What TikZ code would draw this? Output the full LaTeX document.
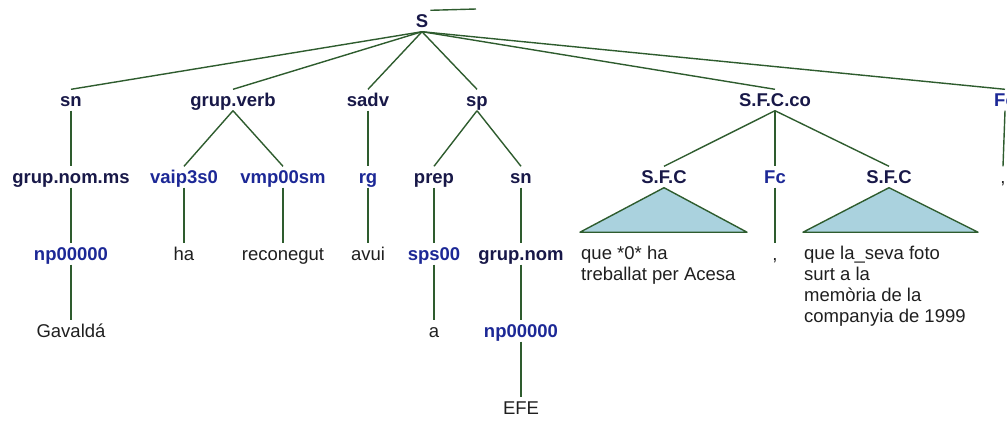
\documentclass[tikz,border=0pt]{standalone}
\usepackage{fontspec}
\setmainfont{Liberation Sans}
\usepackage{tikz}
\definecolor{catcol}{RGB}{24,24,72}
\definecolor{tagcol}{RGB}{28,40,150}
\definecolor{edgecol}{RGB}{46,92,46}
\definecolor{trifill}{RGB}{170,210,222}
\tikzset{
  lbl/.style={anchor=base,inner xsep=2pt,inner ysep=3pt,text height=13.5pt,text depth=1.5pt,font=\fontsize{18.5}{21}\selectfont},
  cat/.style={lbl,font=\fontsize{18.5}{21}\selectfont\bfseries,text=catcol},
  tag/.style={lbl,font=\fontsize{18.5}{21}\selectfont\bfseries,text=tagcol},
  word/.style={lbl,text=black!88},
  phrase/.style={anchor=north west,align=left,inner sep=0pt,font=\fontsize{18.5}{21}\selectfont,text=black!88},
  br/.style={draw=edgecol,line width=1.4pt},
  tri/.style={draw=edgecol,line width=1.4pt,fill=trifill,line join=round}
}

\begin{document}
\begin{tikzpicture}[x=1pt,y=-1pt]
\clip (0,0) rectangle (1007,421);
\node[cat] (S) at (422,27) {S};
\coordinate (up) at (476,9);
% first level
\node[cat] (sn) at (71,106) {sn};
\node[cat] (gv) at (233,106) {grup.verb};
\node[cat] (sadv) at (368,106) {sadv};
\node[cat] (sp) at (477,106) {sp};
\node[cat] (sfcco) at (775,106) {S.F.C.co};
\node[tag] (fcr) at (1005,106) {Fc};
% second level
\node[cat] (gnms) at (71,183) {grup.nom.ms};
\node[tag] (vaip) at (184,183) {vaip3s0};
\node[tag] (vmp) at (283,183) {vmp00sm};
\node[tag] (rg) at (368,183) {rg};
\node[cat] (prep) at (434,183) {prep};
\node[cat] (snb) at (521,183) {sn};
\node[cat] (sfca) at (664,183) {S.F.C};
\node[tag] (fcm) at (775,183) {Fc};
\node[cat] (sfcb) at (889,183) {S.F.C};
\node[word] (comr) at (1003,183) {,};
% third level
\node[tag] (npa) at (71,260) {np00000};
\node[word] (ha) at (184,260) {ha};
\node[word] (recon) at (283,260) {reconegut};
\node[word] (avui) at (368,260) {avui};
\node[tag] (sps) at (434,260) {sps00};
\node[cat] (gnom) at (521,260) {grup.nom};
\node[word] (comm) at (775,260) {,};
\node[phrase] (pha) at (581,245.5) {que *0* ha\\treballat per Acesa};
\node[phrase] (phb) at (804,245.5) {que la\_seva foto\\surt a la\\memòria de la\\companyia de 1999};
% fourth and fifth level
\node[word] (gav) at (71,337) {Gavaldá};
\node[word] (a) at (434,337) {a};
\node[tag] (npb) at (521,337) {np00000};
\node[word] (efe) at (521,414) {EFE};
% branches
\draw[br] (S.north east) -- (up);
\foreach \p/\c in {S/sn,S/gv,S/sadv,S/sp,S/sfcco,S/fcr,sn/gnms,gv/vaip,gv/vmp,sadv/rg,sp/prep,sp/snb,
  sfcco/sfca,sfcco/fcm,sfcco/sfcb,fcr/comr,gnms/npa,vaip/ha,vmp/recon,rg/avui,prep/sps,snb/gnom,fcm/comm,
  npa/gav,sps/a,gnom/npb,npb/efe}
  \draw[br] (\p.south) -- (\c.north);
\path[tri] (sfca.south) -- ++(-84,44.5) -- ++(167,0) -- cycle;
\path[tri] (sfcb.south) -- ++(-86,44.5) -- ++(175,0) -- cycle;
\end{tikzpicture}
\end{document}
